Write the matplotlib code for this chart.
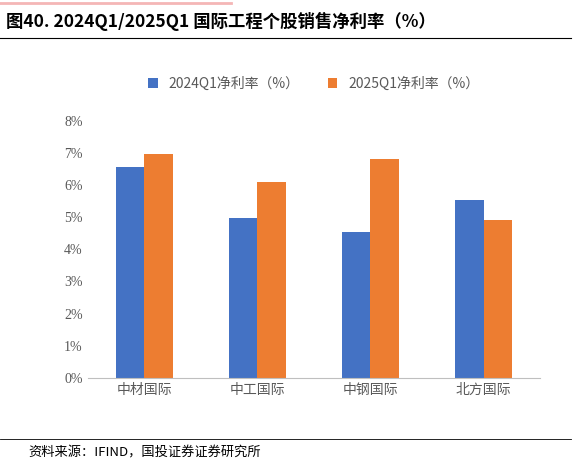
import matplotlib
matplotlib.use("Agg")
import matplotlib.pyplot as plt
import numpy as np

plt.rcParams['font.family'] = ['Noto Sans CJK SC', 'DejaVu Sans']

categories = ["中材国际", "中工国际", "中钢国际", "北方国际"]
series_names = ["2024Q1净利率（%）", "2025Q1净利率（%）"]
v2024 = [6.57, 4.98, 4.55, 5.55]
v2025 = [6.98, 6.10, 6.82, 4.92]
colors = ["#4472C4", "#ED7D31"]

fig = plt.figure(figsize=(5.77, 4.67), dpi=100)
ax = fig.add_axes([0.152, 0.191, 0.784, 0.55])
x = np.arange(len(categories))
w = 0.25
ax.bar(x - w/2, v2024, w, color=colors[0], label=series_names[0])
ax.bar(x + w/2, v2025, w, color=colors[1], label=series_names[1])
ax.set_ylim(0, 8)
ax.set_yticks(range(0, 9))
ax.set_yticklabels([f"{i}%" for i in range(0, 9)], color="#595959", fontsize=10, family=['Liberation Serif'])
ax.set_xticks(x)
ax.set_xticklabels(categories, color="#595959", fontsize=10)
ax.set_xlim(-0.5, 3.5)
for s in ["top", "right", "left"]:
    ax.spines[s].set_visible(False)
ax.spines["bottom"].set_color("#BFBFBF")
ax.tick_params(length=0)
ax.legend(loc="upper center", bbox_to_anchor=(0.5, 1.22), ncol=2, frameon=False,
          fontsize=10, labelcolor="#595959", handlelength=0.7, handleheight=0.7, columnspacing=2)

fig.text(0.01, 0.955, "图40. 2024Q1/2025Q1 国际工程个股销售净利率（%）", fontsize=12.5, fontweight="bold", va="center")
fig.add_artist(plt.Line2D([0.0, 0.99], [0.918, 0.918], color="black", lw=0.8))
fig.add_artist(plt.Line2D([0.0, 0.4], [0.994, 0.994], color="#F4B6B6", lw=2))
fig.add_artist(plt.Line2D([0.0, 0.99], [0.06, 0.06], color="black", lw=0.6))
fig.text(0.05, 0.03, "资料来源：IFIND，国投证券证券研究所", fontsize=9.5, style="italic", va="center")

fig.savefig("out.png", dpi=100)
